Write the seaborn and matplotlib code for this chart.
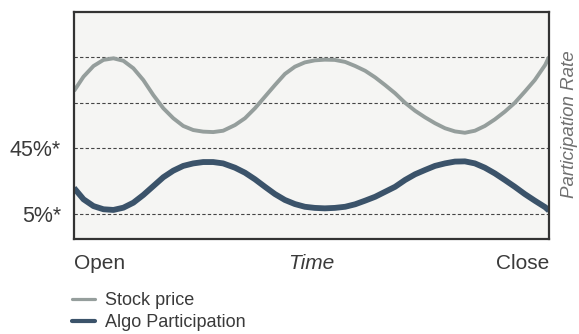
import matplotlib
matplotlib.use("Agg")
import matplotlib.pyplot as plt
import seaborn as sns
import pandas as pd
from matplotlib.lines import Line2D

# Session progress (0 = open, 100 = close)
time_pct = [0.0, 2.0, 4.1, 6.2, 8.3, 10.4, 12.5, 14.6, 16.7, 18.8, 20.9, 23.0,
            25.1, 27.2, 29.3, 31.4, 33.9, 36.0, 38.1, 40.2, 42.3, 44.4, 46.5,
            48.6, 50.7, 52.8, 54.9, 57.1, 59.2, 61.3, 63.4, 65.5, 67.6, 69.7,
            71.8, 73.9, 76.0, 78.1, 80.2, 82.3, 84.4, 86.5, 88.6, 90.7, 92.8,
            94.9, 97.0, 99.2, 100.0]

stock_price = [65.2, 71.5, 76.2, 78.9, 79.6, 78.5, 75.2, 70.0, 63.4, 57.6, 53.2,
               49.8, 48.0, 47.3, 47.1, 47.7, 50.2, 53.2, 57.6, 62.7, 67.8, 72.7,
               75.9, 77.8, 78.7, 79.0, 78.9, 78.0, 76.2, 74.1, 71.2, 67.8, 64.2,
               60.0, 56.5, 53.6, 51.0, 48.8, 47.4, 46.8, 47.7, 49.8, 52.7, 56.1,
               60.0, 64.9, 70.0, 76.7, 80.2]

algo_participation = [22.5, 17.5, 14.5, 13.1, 12.8, 13.8, 16.0, 19.4, 23.3, 27.2,
                      30.1, 32.2, 33.3, 33.9, 33.9, 33.3, 31.4, 29.2, 26.3, 23.0,
                      19.8, 17.2, 15.4, 14.2, 13.7, 13.5, 13.7, 14.2, 15.3, 16.9,
                      18.6, 20.8, 23.0, 26.0, 28.5, 30.4, 32.2, 33.3, 34.1, 34.2,
                      33.3, 31.4, 28.9, 26.0, 23.0, 19.8, 16.9, 14.0, 12.5]

grid_levels = [11, 40, 60, 80]
grid_labels = ["5%*", "45%*", "", ""]
series_names = ["Stock price", "Algo Participation"]

STOCK_COLOR = "#959e9c"
ALGO_COLOR = "#3b536a"
TEXT_COLOR = "#3a3a3a"
MAIN_SIZE = 15

sns.set_style("white")
plt.rcParams["font.family"] = ["Liberation Sans", "DejaVu Sans"]

df = pd.DataFrame({"time": time_pct, "stock": stock_price, "algo": algo_participation})

fig = plt.figure(figsize=(5.79, 3.34), dpi=100)
ax = fig.add_axes([74 / 579, 1 - 239 / 334, 475 / 579, 227 / 334])
ax.set_facecolor("#f5f5f3")

sns.lineplot(data=df, x="time", y="stock", ax=ax, color=STOCK_COLOR,
             linewidth=2.8, solid_capstyle="butt", solid_joinstyle="round")
sns.lineplot(data=df, x="time", y="algo", ax=ax, color=ALGO_COLOR,
             linewidth=4.2, solid_capstyle="butt", solid_joinstyle="round")

ax.set_xlim(0, 100)
ax.set_ylim(0, 100)

# Dashed reference levels
ax.set_yticks(grid_levels)
ax.set_yticklabels(grid_labels, fontsize=MAIN_SIZE + 0.5, color=TEXT_COLOR)
ax.yaxis.grid(True, linestyle=(0, (3, 2)), linewidth=0.8, color="#444444")
ax.xaxis.grid(False)
ax.set_axisbelow(True)
ax.tick_params(axis="y", length=0, pad=9.5)

x_pad_pt = 10.5
ax.set_xticks([0, 100])
ax.set_xticklabels(["Open", "Close"], fontsize=MAIN_SIZE, color=TEXT_COLOR)
for lbl, ha in zip(ax.get_xticklabels(), ["left", "right"]):
    lbl.set_horizontalalignment(ha)
ax.tick_params(axis="x", length=0, pad=x_pad_pt)
ax.set_xlabel("Time", fontsize=MAIN_SIZE, style="italic", color=TEXT_COLOR)
ax.xaxis.set_label_coords(0.5, -(x_pad_pt * 100 / 72) / 227, transform=ax.transAxes)
ax.xaxis.label.set_verticalalignment("top")
ax.set_ylabel("")

for side in ["left", "right", "top", "bottom"]:
    ax.spines[side].set_visible(True)
    ax.spines[side].set_color("#333333")
    ax.spines[side].set_linewidth(1.6)

fig.text(570 / 579, 1 - 124 / 334, "Participation Rate", rotation=90,
         ha="center", va="center", fontsize=13.5, style="italic",
         color="#707070")

handles = [Line2D([], [], color=STOCK_COLOR, linewidth=2.3),
           Line2D([], [], color=ALGO_COLOR, linewidth=3.0)]
fig.legend(handles, series_names, loc="upper left",
           bbox_to_anchor=(72 / 579, 1 - 292 / 334), frameon=False,
           fontsize=13, handlelength=1.3, handletextpad=0.55,
           labelspacing=0.3, borderpad=0, borderaxespad=0,
           labelcolor=TEXT_COLOR)

fig.savefig("out.png", dpi=100, facecolor="white")
